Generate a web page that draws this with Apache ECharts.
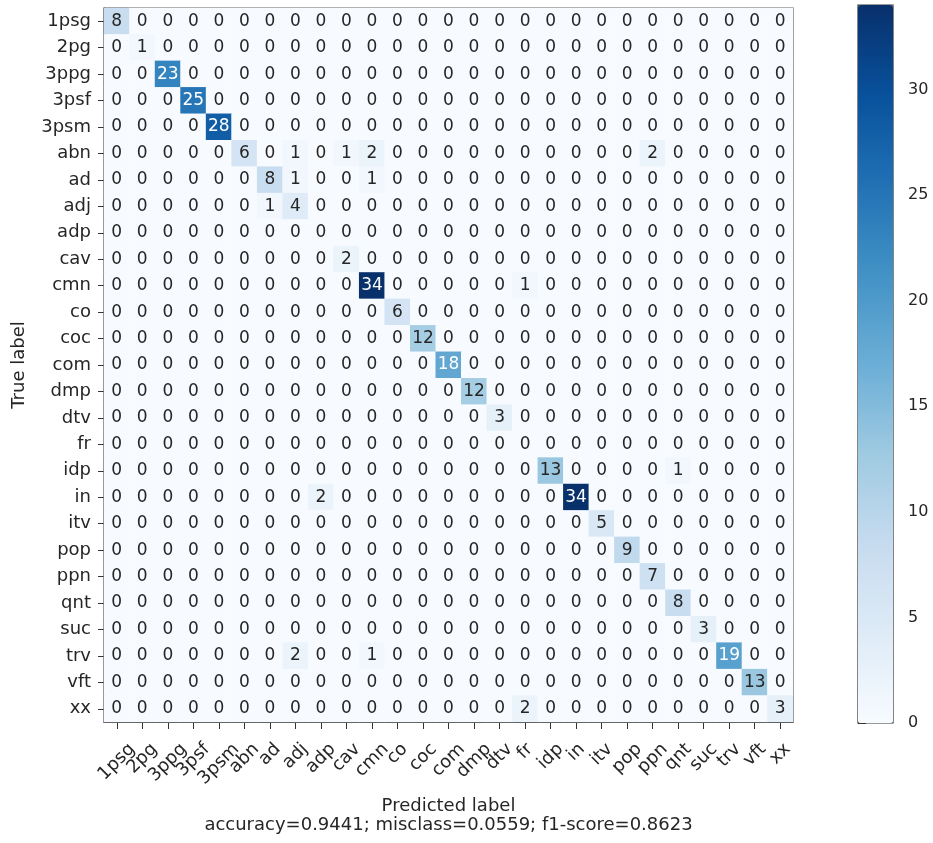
<!DOCTYPE html>
<html>
<head>
<meta charset="utf-8">
<script src="https://cdn.jsdelivr.net/npm/echarts@6/dist/echarts.min.js"></script>
<style>
html,body{margin:0;padding:0;background:#fff;}
#chart{width:933px;height:843px;}
</style>
</head>
<body>
<div id="chart"></div>
<script>
const classLabels = ['1psg','2pg','3ppg','3psf','3psm','abn','ad','adj','adp','cav','cmn','co','coc','com','dmp','dtv','fr','idp','in','itv','pop','ppn','qnt','suc','trv','vft','xx'];

// rows = true label, columns = predicted label
const counts = [
  [8,0,0,0,0,0,0,0,0,0,0,0,0,0,0,0,0,0,0,0,0,0,0,0,0,0,0],
  [0,1,0,0,0,0,0,0,0,0,0,0,0,0,0,0,0,0,0,0,0,0,0,0,0,0,0],
  [0,0,23,0,0,0,0,0,0,0,0,0,0,0,0,0,0,0,0,0,0,0,0,0,0,0,0],
  [0,0,0,25,0,0,0,0,0,0,0,0,0,0,0,0,0,0,0,0,0,0,0,0,0,0,0],
  [0,0,0,0,28,0,0,0,0,0,0,0,0,0,0,0,0,0,0,0,0,0,0,0,0,0,0],
  [0,0,0,0,0,6,0,1,0,1,2,0,0,0,0,0,0,0,0,0,0,2,0,0,0,0,0],
  [0,0,0,0,0,0,8,1,0,0,1,0,0,0,0,0,0,0,0,0,0,0,0,0,0,0,0],
  [0,0,0,0,0,0,1,4,0,0,0,0,0,0,0,0,0,0,0,0,0,0,0,0,0,0,0],
  [0,0,0,0,0,0,0,0,0,0,0,0,0,0,0,0,0,0,0,0,0,0,0,0,0,0,0],
  [0,0,0,0,0,0,0,0,0,2,0,0,0,0,0,0,0,0,0,0,0,0,0,0,0,0,0],
  [0,0,0,0,0,0,0,0,0,0,34,0,0,0,0,0,1,0,0,0,0,0,0,0,0,0,0],
  [0,0,0,0,0,0,0,0,0,0,0,6,0,0,0,0,0,0,0,0,0,0,0,0,0,0,0],
  [0,0,0,0,0,0,0,0,0,0,0,0,12,0,0,0,0,0,0,0,0,0,0,0,0,0,0],
  [0,0,0,0,0,0,0,0,0,0,0,0,0,18,0,0,0,0,0,0,0,0,0,0,0,0,0],
  [0,0,0,0,0,0,0,0,0,0,0,0,0,0,12,0,0,0,0,0,0,0,0,0,0,0,0],
  [0,0,0,0,0,0,0,0,0,0,0,0,0,0,0,3,0,0,0,0,0,0,0,0,0,0,0],
  [0,0,0,0,0,0,0,0,0,0,0,0,0,0,0,0,0,0,0,0,0,0,0,0,0,0,0],
  [0,0,0,0,0,0,0,0,0,0,0,0,0,0,0,0,0,13,0,0,0,0,1,0,0,0,0],
  [0,0,0,0,0,0,0,0,2,0,0,0,0,0,0,0,0,0,34,0,0,0,0,0,0,0,0],
  [0,0,0,0,0,0,0,0,0,0,0,0,0,0,0,0,0,0,0,5,0,0,0,0,0,0,0],
  [0,0,0,0,0,0,0,0,0,0,0,0,0,0,0,0,0,0,0,0,9,0,0,0,0,0,0],
  [0,0,0,0,0,0,0,0,0,0,0,0,0,0,0,0,0,0,0,0,0,7,0,0,0,0,0],
  [0,0,0,0,0,0,0,0,0,0,0,0,0,0,0,0,0,0,0,0,0,0,8,0,0,0,0],
  [0,0,0,0,0,0,0,0,0,0,0,0,0,0,0,0,0,0,0,0,0,0,0,3,0,0,0],
  [0,0,0,0,0,0,0,2,0,0,1,0,0,0,0,0,0,0,0,0,0,0,0,0,19,0,0],
  [0,0,0,0,0,0,0,0,0,0,0,0,0,0,0,0,0,0,0,0,0,0,0,0,0,13,0],
  [0,0,0,0,0,0,0,0,0,0,0,0,0,0,0,0,2,0,0,0,0,0,0,0,0,0,3]
];

const colorbarTicks = [0,5,10,15,20,25,30];
const xAxisTitle = 'Predicted label';
const yAxisTitle = 'True label';
const scoreText = 'accuracy=0.9441; misclass=0.0559; f1-score=0.8623';

const blues = ['#f7fbff','#deebf7','#c6dbef','#9ecae1','#6baed6','#4292c6','#2171b5','#08519c','#08306b'];
const vmax = 34;
const thresh = vmax / 2;
const FONT = 'DejaVu Sans';
const TEXT = '#262626';
const LABEL_SIZE = 18;

// heatmap cells
const data = [];
counts.forEach((row, i) => {
  row.forEach((v, j) => {
    data.push({
      value: [j, i, v],
      label: { color: v > thresh ? '#ffffff' : TEXT }
    });
  });
});

// matplotlib-like rotated x tick labels: centred on tick, tops aligned
const ctx = document.createElement('canvas').getContext('2d');
ctx.font = LABEL_SIZE + 'px "' + FONT + '"';
const widths = classLabels.map(s => ctx.measureText(s).width);
const wMin = Math.min.apply(null, widths);
const lineH = LABEL_SIZE * 1.17;
const xRich = {};
classLabels.forEach((s, i) => {
  const p = 0.5 * (widths[i] - wMin);
  xRich['l' + i] = { fontSize: LABEL_SIZE, fontFamily: FONT, color: TEXT, padding: [p, p, 0, 0], lineHeight: lineH };
});
const xMargin = 17 + (wMin + lineH) * 0.3536;

const chart = echarts.init(document.getElementById('chart'), null, { renderer: 'canvas' });
chart.setOption({
  backgroundColor: '#ffffff',
  animation: false,
  textStyle: { fontFamily: FONT },
  grid: [
    { left: 104, top: 8, width: 689, height: 714, show: true, borderColor: '#333', borderWidth: 1.2, backgroundColor: 'transparent' },
    { left: 858, top: 5, width: 35, height: 718, show: true, borderColor: '#333', borderWidth: 1.2, backgroundColor: 'transparent' }
  ],
  xAxis: [
    {
      gridIndex: 0, type: 'category', data: classLabels, position: 'bottom',
      axisLine: { show: true, lineStyle: { color: '#333', width: 1.2 } },
      axisTick: { show: true, alignWithLabel: true, length: 7, lineStyle: { color: '#333' } },
      axisLabel: {
        rotate: 45, align: 'center', verticalAlign: 'middle', margin: xMargin, interval: 0,
        formatter: (v, i) => '{l' + i + '|' + v + '}', rich: xRich
      },
      splitLine: { show: false },
      name: xAxisTitle + '\n' + scoreText,
      nameLocation: 'middle', nameGap: 75,
      nameTextStyle: { fontSize: LABEL_SIZE, color: TEXT, fontFamily: FONT, lineHeight: 19 }
    },
    { gridIndex: 1, type: 'value', show: false, min: 0, max: 1 }
  ],
  yAxis: [
    {
      gridIndex: 0, type: 'category', data: classLabels, inverse: true,
      axisLine: { show: true, lineStyle: { color: '#333', width: 1.2 } },
      axisTick: { show: true, alignWithLabel: true, length: 6, lineStyle: { color: '#333' } },
      axisLabel: { fontSize: LABEL_SIZE, color: TEXT, fontFamily: FONT, margin: 13, interval: 0 },
      splitLine: { show: false },
      name: yAxisTitle, nameLocation: 'middle', nameGap: 76, nameRotate: 90,
      nameTextStyle: { fontSize: LABEL_SIZE, color: TEXT, fontFamily: FONT }
    },
    {
      gridIndex: 1, type: 'value', min: 0, max: vmax, interval: 5, position: 'right',
      axisLine: { show: false },
      axisTick: { show: true, length: 8, lineStyle: { color: '#333' } },
      axisLabel: { fontSize: 16, color: TEXT, fontFamily: FONT, margin: 15,
        formatter: v => colorbarTicks.includes(v) ? String(v) : '' },
      splitLine: { show: false }
    }
  ],
  visualMap: {
    type: 'continuous', min: 0, max: vmax, seriesIndex: 0,
    left: 858, top: 5, itemWidth: 35, itemHeight: 718, padding: 0,
    calculable: false, orient: 'vertical', text: ['', ''],
    inRange: { color: blues }
  },
  series: [{
    type: 'heatmap', xAxisIndex: 0, yAxisIndex: 0, data: data,
    label: { show: true, fontSize: 17, fontFamily: FONT, formatter: p => String(p.value[2]) },
    itemStyle: { borderWidth: 0 },
    emphasis: { disabled: true }
  }]
});
</script>
</body>
</html>
